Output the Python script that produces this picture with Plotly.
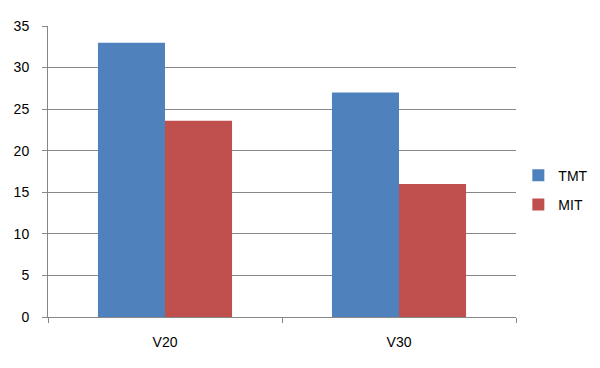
import plotly.graph_objects as go

categories = ["V20", "V30"]
tmt_values = [33, 27]
mit_values = [23.6, 16]
y_ticks = [0, 5, 10, 15, 20, 25, 30, 35]

fig = go.Figure()
fig.add_trace(go.Bar(name="TMT", x=categories, y=tmt_values, legendgroup="a",
                     marker=dict(color="#4F81BD", line_width=0)))
fig.add_trace(go.Bar(name="MIT", x=categories, y=mit_values, legendgroup="b",
                     marker=dict(color="#C0504D", line_width=0)))

fig.update_layout(
    width=600, height=368,
    margin=dict(l=48, r=84, t=26, b=51, autoexpand=False),
    paper_bgcolor="white", plot_bgcolor="white",
    barmode="group", bargap=0.427, bargroupgap=0,
    font=dict(family="Liberation Sans, Open Sans, sans-serif", size=14, color="#000"),
    legend=dict(x=0.01, y=0.436, xanchor="left", yanchor="middle", xref="paper",
                font=dict(size=14), itemwidth=30, traceorder="grouped", tracegroupgap=8),
    showlegend=True,
)
fig.update_layout(legend_x=1.005)
fig.update_xaxes(
    showline=True, linecolor="#878787", linewidth=1, automargin=False,
    ticks="outside", tickson="boundaries", ticklen=5, tickcolor="#878787",
    ticklabelstandoff=12, showgrid=False,
)
fig.update_yaxes(
    range=[0, 35], tickvals=y_ticks, showline=True, linecolor="#878787", linewidth=1,
    automargin=False,
    ticks="outside", ticklen=5, tickcolor="#878787",
    showgrid=True, gridcolor="#878787", gridwidth=1, zeroline=False,
    ticklabelstandoff=10,
)
fig.write_html("out.html", config={"displayModeBar": False},
               post_script="document.body.style.margin='0';")
